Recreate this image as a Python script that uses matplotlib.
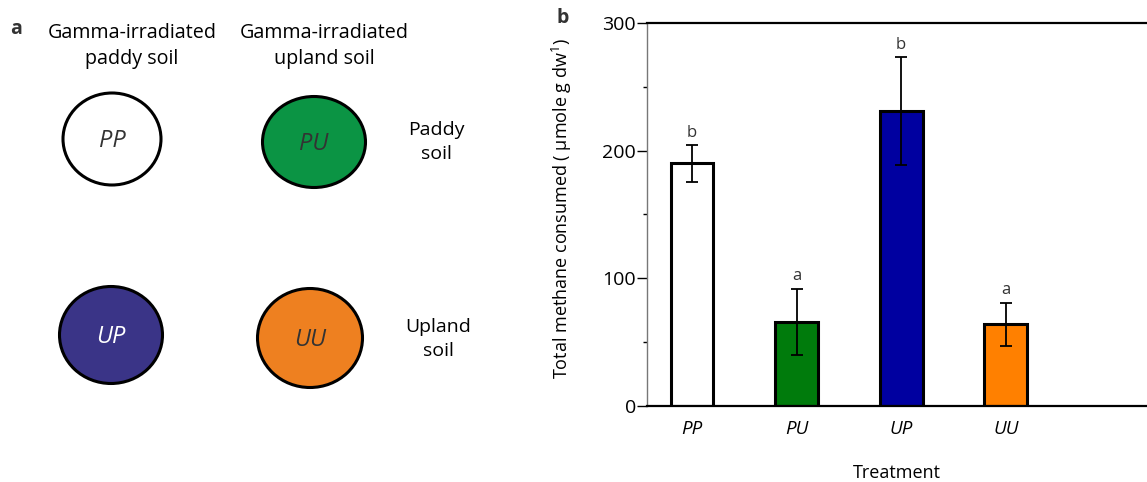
import matplotlib
matplotlib.use("Agg")
import matplotlib.pyplot as plt
from matplotlib.patches import Ellipse

plt.rcParams['font.family'] = ['Open Sans', 'DejaVu Sans']
plt.rcParams['mathtext.fontset'] = 'custom'
plt.rcParams['mathtext.rm'] = 'Open Sans'
plt.rcParams['mathtext.it'] = 'Open Sans:italic'

# Treatments and total methane consumed (mean, error)
treatments = ["PP", "PU", "UP", "UU"]
methane = [190, 66, 231, 64]
errors = [14.5, 26, 42, 17]
letters = ["b", "a", "b", "a"]
bar_colors = ["#ffffff", "#007b0c", "#0000a0", "#ff8000"]

# Soil combinations for the schematic panel
circle_labels = ["PP", "PU", "UP", "UU"]
circle_colors = ["#ffffff", "#0b9444", "#3a3487", "#ee8020"]
circle_text_colors = ["#333333", "#333333", "#ffffff", "#333333"]

W, H = 1147, 482
fig = plt.figure(figsize=(W / 100, H / 100), dpi=100)

# ---- panel a: schematic in pixel coordinates ----
ax0 = fig.add_axes([0, 0, 1, 1])
ax0.set_xlim(0, W)
ax0.set_ylim(H, 0)
ax0.axis("off")

centers = [(112, 139), (314, 142), (111, 335), (310, 338)]
sizes = [(98, 92), (103, 91), (103, 97), (105, 99)]
for (cx, cy), (w, h), lab, fc, tc in zip(centers, sizes, circle_labels,
                                          circle_colors, circle_text_colors):
    ax0.add_patch(Ellipse((cx, cy), w, h, facecolor=fc, edgecolor="black", lw=2.2))
    ax0.text(cx, cy + 2, lab, ha="center", va="center", fontsize=17,
             style="italic", color=tc)

ax0.text(16, 29, "a", fontsize=14, fontweight="bold", ha="center", va="center",
         color="#333333")
ax0.text(132, 46, "Gamma-irradiated\npaddy soil", fontsize=14.2, ha="center",
         va="center", linespacing=1.4)
ax0.text(324, 46, "Gamma-irradiated\nupland soil", fontsize=14.2, ha="center",
         va="center", linespacing=1.4)
ax0.text(436, 142, "Paddy\nsoil", fontsize=14, ha="center", va="center",
         linespacing=1.4)
ax0.text(438, 339, "Upland\nsoil", fontsize=14, ha="center", va="center",
         linespacing=1.4)
ax0.text(563, 18, "b", fontsize=14, fontweight="bold", ha="center", va="center",
         color="#333333")

# ---- panel b: bar chart ----
ax = fig.add_axes([647 / W, 76 / H, 1 - 647 / W, 383 / H])
x = range(len(treatments))
ax.bar(x, methane, width=0.41, color=bar_colors, edgecolor="black", lw=2.2,
       zorder=2)
ax.errorbar(x, methane, yerr=errors, fmt="none", ecolor="black", elinewidth=1.3,
            capsize=4, capthick=1.3, zorder=3)
for xi, m, e, l in zip(x, methane, errors, letters):
    ax.annotate(l, (xi, m + e), xytext=(0, 3), textcoords="offset points",
                ha="center", va="bottom", fontsize=12, color="#333333")

ax.set_xlim(-0.43, 4.35)
ax.set_ylim(0, 300)
ax.set_yticks([0, 100, 200, 300])
ax.set_yticks([50, 150, 250], minor=True)
ax.tick_params(axis="y", which="major", length=7, width=1, labelsize=14, pad=1)
ax.tick_params(axis="y", which="minor", length=3, width=1)
ax.set_xticks(list(x))
ax.set_xticklabels(treatments, fontsize=13.5, style="italic")
ax.tick_params(axis="x", length=0, pad=10)

ax.spines["right"].set_visible(False)
ax.spines["left"].set_color("#777777")
ax.spines["left"].set_linewidth(1.0)
ax.spines["top"].set_linewidth(1.6)
ax.spines["bottom"].set_linewidth(1.6)

ax.set_xlabel("Treatment", fontsize=13, labelpad=19)
ax.set_ylabel("Total methane consumed ( \u03bcmole g dw$^{1}$)", fontsize=13)
ax.yaxis.set_label_coords(-0.146, 0.515)

fig.savefig("out.png", dpi=100)
